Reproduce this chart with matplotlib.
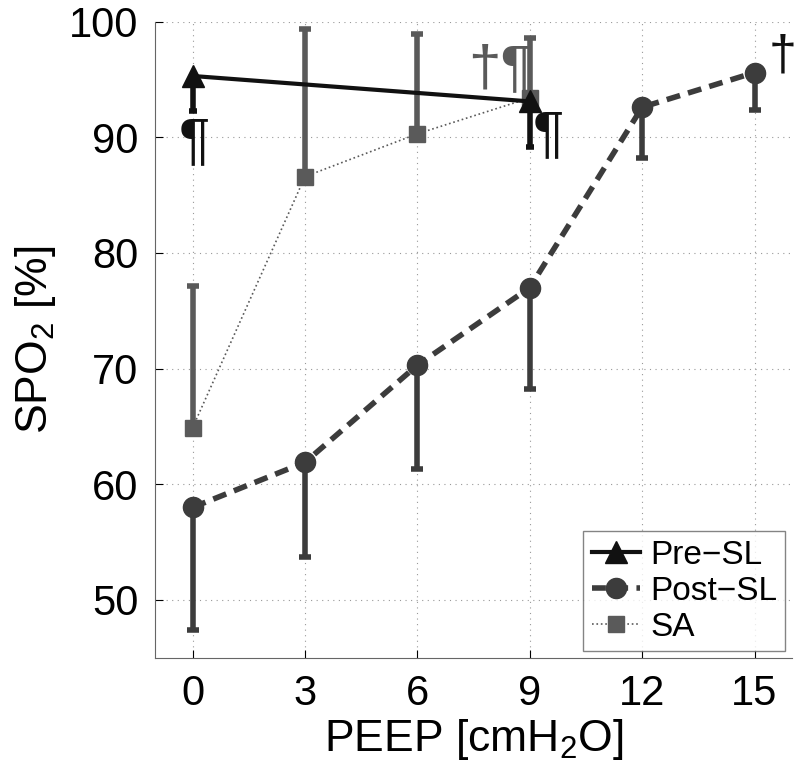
import matplotlib
matplotlib.use("Agg")
from matplotlib import pyplot as plt
from matplotlib.lines import Line2D

# PEEP levels
peep_pre = [0, 9]
peep_post = [0, 3, 6, 9, 12, 15]
peep_sa = [0, 3, 6, 9]

# SpO2 means and one-sided error bars
spo2_pre = [95.3, 93.1]
err_pre = [3.0, 3.9]          # downward
spo2_post = [58.0, 61.9, 70.3, 77.0, 92.6, 95.6]
err_post = [10.6, 8.2, 9.0, 8.8, 4.4, 3.2]   # downward
spo2_sa = [64.9, 86.6, 90.3, 93.4]
err_sa = [12.2, 12.8, 8.6, 5.2]   # upward

xticks = [0, 3, 6, 9, 12, 15]
yticks = [50, 60, 70, 80, 90, 100]

plt.rcParams['font.family'] = ['Liberation Sans', 'DejaVu Sans']
plt.rcParams['mathtext.fontset'] = 'custom'
plt.rcParams['mathtext.rm'] = 'Liberation Sans'

fig = plt.figure(figsize=(8, 7.72), dpi=100)
ax = fig.add_axes([0.194, 0.148, 0.796, 0.824])

c_pre = '#111111'
c_post = '#3c3c3c'
c_sa = '#5a5a5a'

sa_style = dict(color=c_sa, ls=':', lw=1.2, marker='s', ms=12)
post_style = dict(color=c_post, ls=(0, (2.5, 1.5)), lw=4, marker='o', ms=14.5)
pre_style = dict(color=c_pre, ls='-', lw=3, marker='^', ms=16)

ax.errorbar(peep_sa, spo2_sa, yerr=[[0] * 4, err_sa], elinewidth=4, capsize=4, capthick=4,
            zorder=3, **sa_style)
ax.errorbar(peep_post, spo2_post, yerr=[err_post, [0] * 6], elinewidth=4, capsize=4, capthick=4,
            zorder=4, **post_style)
ax.errorbar(peep_pre, spo2_pre, yerr=[err_pre, [0] * 2], elinewidth=4, capsize=3, capthick=4,
            zorder=5, **pre_style)

# significance marks
ax.text(0.05, 89.5, '\u00b6', fontsize=42, color=c_pre, ha='center', va='center')
ax.text(9.5, 90.1, '\u00b6', fontsize=42, color=c_pre, ha='center', va='center')
ax.text(8.2, 95.8, '\u2020\u00b6', fontsize=42, color=c_sa, ha='center', va='center')
ax.text(15.75, 97.0, '\u2020', fontsize=36, color=c_pre, ha='center', va='center')

ax.set_xlim(-1, 16)
ax.set_ylim(45, 100)
ax.set_xticks(xticks)
ax.set_yticks(yticks)
ax.tick_params(direction='in', length=6, labelsize=30, width=0.8, pad=12)
ax.grid(True, ls=(0, (1, 4)), color='#999999', lw=0.8)
for s in ['top', 'right']:
    ax.spines[s].set_visible(False)
for s in ['left', 'bottom']:
    ax.spines[s].set_color('#666666')

ax.set_xlabel('PEEP [cmH$_2$O]', fontsize=32, labelpad=2)
ax.set_ylabel('SPO$_2$ [%]', fontsize=32, labelpad=8)

handles = [Line2D([], [], label='Pre\u2212SL', **pre_style),
           Line2D([], [], label='Post\u2212SL', **post_style),
           Line2D([], [], label='SA', **sa_style)]
leg = ax.legend(handles=handles, loc='lower right', fontsize=24, frameon=True,
                fancybox=False, edgecolor='#666666', handlelength=1.45, handletextpad=0.3,
                borderaxespad=0.2, labelspacing=0.15, borderpad=0.25)
leg.get_frame().set_linewidth(1)

fig.savefig('out.png', dpi=100)
